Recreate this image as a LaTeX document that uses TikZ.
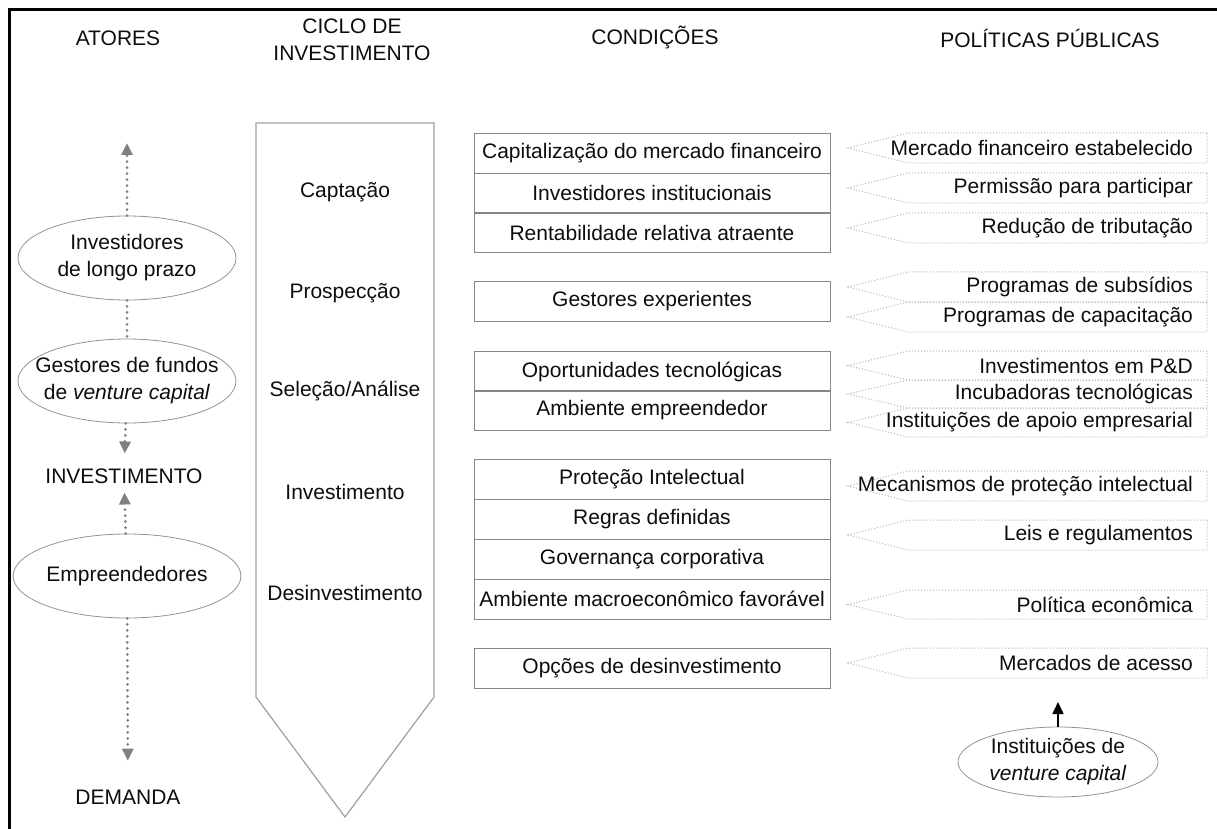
\documentclass[tikz,border=0pt]{standalone}
\usepackage{fontspec}
\setmainfont{Liberation Sans}
\usetikzlibrary{arrows.meta,shapes.geometric}

\begin{document}
\begin{tikzpicture}[x=0.5pt,y=-0.5pt,>={Triangle[width=5.5pt,length=6pt]}]

\def\xact{127}
\def\xcyc{345}
\def\xcond{652}
\def\polr{1207}
\def\polb{908}
\def\polt{848}

% Colours
\colorlet{textcolor}{black!95}
\colorlet{boxcolor}{gray!95}
\colorlet{cyclecolor}{gray!75}
\colorlet{policycolor}{gray!60}
\colorlet{actorcolor}{gray!85}
\colorlet{flowcolor}{gray}

% Styles
\tikzstyle{every node}=[font=\fontsize{10.5}{13.5}\selectfont, text=textcolor]
\tikzstyle{actor}=[draw=actorcolor, ellipse, minimum width=109pt, minimum height=42pt, inner sep=0pt, align=center]
\tikzstyle{condition}=[draw=boxcolor, minimum width=178pt, minimum height=20pt, inner sep=0pt]
\tikzstyle{policy}=[draw=policycolor, densely dotted, line width=0.5pt]
\tikzstyle{flow}=[flowcolor, line width=1.5pt, line cap=round, dash pattern=on 0pt off 3pt]

\useasboundingbox (0,0) rectangle (1217,829);
\draw[line width=1.5pt] (9.5,829) -- (9.5,9.5) -- (1217,9.5);

% Headers
\node (hact) at (118,38) {ATORES};
\node[align=center] (hcyc) at (352,40) {CICLO DE\\INVESTIMENTO};
\node (hcond) at (655,38) {CONDIÇÕES};
\node (hpol) at (1050,38) {POLÍTICAS PÚBLICAS};

% Actors
\node[actor] (longo) at (\xact,258) {Investidores\\de longo prazo};
\node[actor, inner xsep=-11pt] (gestores) at (\xact,381) {Gestores de fundos\\de \textit{venture capital}};
\node (investimento) at (124,476) {INVESTIMENTO};
\node[actor] (empreend) at (\xact,576) {Empreendedores};
\node (demanda) at (128,797) {DEMANDA};
\coordinate (topo) at (\xact,143);

\draw[flow, ->] (longo) -- (topo);
\draw[flow] (longo) -- (gestores);
\draw[flow, ->, shorten >=4pt] (gestores) -- (investimento);
\draw[flow, ->, shorten >=1pt] (empreend) -- (investimento);
\draw[flow, ->, shorten >=11pt] (empreend) -- (demanda);

% Investment cycle
\draw[cyclecolor, line width=0.6pt] (256,123) -- (434,123) -- (434,697) -- (\xcyc,817) -- (256,697) -- cycle;
\node (captacao) at (\xcyc,192) {Captação};
\node (prospeccao) at (\xcyc,293) {Prospecção};
\node (selecao) at (\xcyc,391) {Seleção/Análise};
\node (investim) at (\xcyc,492) {Investimento};
\node (desinv) at (\xcyc,593) {Desinvestimento};

% Conditions
\node[condition] (capmerc) at (\xcond,153) {Capitalização do mercado financeiro};
\node[condition] (invinst) at (\xcond,193) {Investidores institucionais};
\node[condition] (rentab) at (\xcond,232.5) {Rentabilidade relativa atraente};
\node[condition] (gestexp) at (\xcond,301.5) {Gestores experientes};
\node[condition] (oportun) at (\xcond,371.5) {Oportunidades tecnológicas};
\node[condition] (ambemp) at (\xcond,410.5) {Ambiente empreendedor};
\node[condition] (protint) at (\xcond,479.5) {Proteção Intelectual};
\node[condition] (regras) at (\xcond,519) {Regras definidas};
\node[condition] (govern) at (\xcond,559) {Governança corporativa};
\node[condition] (macro) at (\xcond,599) {Ambiente macroeconômico favorável};
\node[condition] (opcoes) at (\xcond,668) {Opções de desinvestimento};

% Public policies
\def\policyarrow#1#2#3#4{%
  \draw[policy] (\polr,#2) -- (\polb,#2) -- (\polt,{(#2+#3)/2}) -- (\polb,#3) -- (\polr,#3) -- cycle;
  \node[anchor=east] (#1) at (1200,{(#2+#3)/2}) {#4};}

\policyarrow{mercfin}{133}{163}{Mercado financeiro estabelecido}
\policyarrow{permissao}{173}{203}{Permissão para participar}
\policyarrow{reducao}{213}{243}{Redução de tributação}
\policyarrow{subsidios}{272}{302}{Programas de subsídios}
\policyarrow{capacit}{302}{332}{Programas de capacitação}
\policyarrow{ped}{351}{380}{Investimentos em P\&D}
\policyarrow{incub}{380}{408}{Incubadoras tecnológicas}
\policyarrow{apoio}{408}{437}{Instituições de apoio empresarial}
\policyarrow{mecan}{471}{501}{Mecanismos de proteção intelectual}
\policyarrow{leis}{520}{550}{Leis e regulamentos}
\policyarrow{politica}{590}{619}{Política econômica}
\policyarrow{acesso}{648}{678}{Mercados de acesso}

\node[actor, minimum width=100pt, minimum height=35pt] (instvc) at (1058,762) {Instituições de\\\textit{venture capital}};
\coordinate (acessoarrow) at (1058,702);
\draw[->, line width=0.8pt] (instvc) -- (acessoarrow);

\end{tikzpicture}
\end{document}
